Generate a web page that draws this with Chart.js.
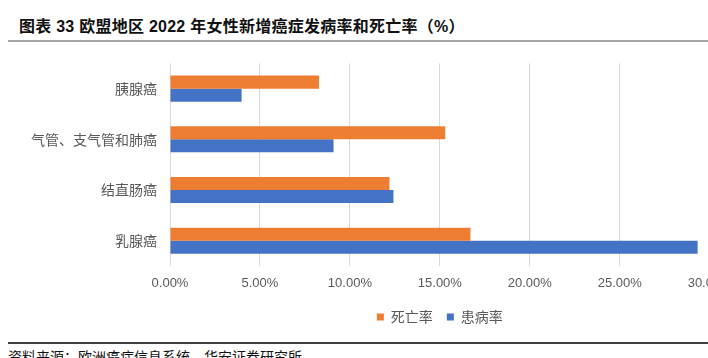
<!DOCTYPE html>
<html>
<head>
<meta charset="utf-8">
<script src="https://cdn.jsdelivr.net/npm/chart.js@4/dist/chart.umd.min.js"></script>
<style>
html, body { margin:0; padding:0; width:708px; height:358px; overflow:hidden; background:#fff; }
#title { position:absolute; left:19px; top:16px; font-family:"Liberation Sans","Noto Sans CJK SC",sans-serif; font-weight:bold; font-size:16px; letter-spacing:0.25px; color:#111; white-space:nowrap; line-height:22px; }
#tline { position:absolute; left:8px; top:40px; width:700px; height:2px; background:#a6a6a6; }
#fline { position:absolute; left:8px; top:342px; width:700px; height:1.5px; background:#404040; }
#foot { position:absolute; left:8px; top:347px; font-family:"Noto Sans CJK SC",sans-serif; font-size:14px; color:#111; white-space:nowrap; line-height:18px; }
#wrap { position:absolute; left:0; top:50px; width:760px; height:290px; }
</style>
</head>
<body>
<div id="title">图表 33 欧盟地区 2022 年女性新增癌症发病率和死亡率（%）</div>
<div id="tline"></div>
<div id="wrap"><canvas id="c" width="760" height="290"></canvas></div>
<div id="fline"></div>
<div id="foot">资料来源：欧洲癌症信息系统，华安证券研究所</div>
<script>
const categories = ["胰腺癌", "气管、支气管和肺癌", "结直肠癌", "乳腺癌"];
const seriesNames = ["死亡率", "患病率"];
const mortality = [8.28, 15.3, 12.2, 16.7];
const incidence = [3.98, 9.09, 12.42, 29.33];
const xTicks = [0, 5, 10, 15, 20, 25, 30];

new Chart(document.getElementById('c'), {
  type: 'bar',
  data: {
    labels: categories,
    datasets: [
      { label: seriesNames[0], data: mortality, backgroundColor: '#ED7D31', borderWidth: 0 },
      { label: seriesNames[1], data: incidence, backgroundColor: '#4472C4', borderWidth: 0 }
    ]
  },
  options: {
    indexAxis: 'y',
    responsive: false,
    animation: false,
    devicePixelRatio: 1,
    datasets: { bar: { barPercentage: 1, categoryPercentage: 0.514 } },
    layout: { padding: { left: 0, right: 50.3, top: 13.3, bottom: 6 } },
    plugins: {
      legend: {
        position: 'bottom',
        fullSize: false,
        labels: {
          boxWidth: 7, boxHeight: 7, padding: 14, color: '#595959',
          font: { family: '"Noto Sans CJK SC", sans-serif', size: 14 }
        }
      },
      tooltip: { enabled: false }
    },
    scales: {
      x: {
        min: xTicks[0], max: xTicks[xTicks.length - 1],
        afterBuildTicks: (s) => { s.ticks = xTicks.map(v => ({ value: v })); },
        afterFit: (s) => { s.height = 30; s.paddingLeft = 0; s.paddingRight = 0; },
        grid: { color: '#d9d9d9', lineWidth: 1, drawTicks: false },
        border: { display: false },
        ticks: {
          padding: 10, color: '#595959', autoSkip: false, maxRotation: 0,
          font: { family: '"Liberation Sans", "Noto Sans CJK SC", sans-serif', size: 13 },
          callback: (v) => Number(v).toFixed(2) + '%'
        }
      },
      y: {
        afterFit: (s) => { s.width = 170; s.paddingTop = 0; s.paddingBottom = 0; },
        grid: { display: false, drawTicks: false },
        border: { display: false },
        ticks: {
          padding: 13, color: '#595959',
          font: { family: '"Noto Sans CJK SC", sans-serif', size: 14 }
        }
      }
    }
  }
});
</script>
</body>
</html>
